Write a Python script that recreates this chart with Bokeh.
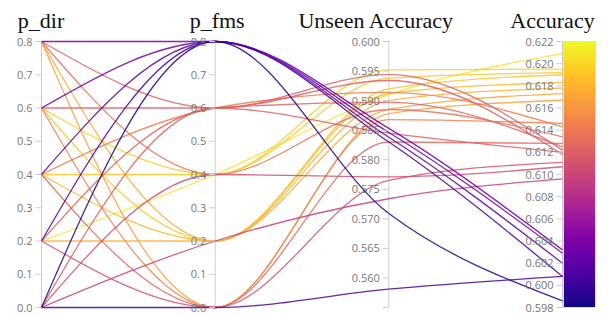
import numpy as np
from bokeh.plotting import figure
from bokeh.models import Range1d, ColumnDataSource, LinearColorMapper
from bokeh.transform import linear_cmap
from bokeh.palettes import Plasma256
from bokeh.core.properties import value
from bokeh.embed import file_html
from bokeh.resources import INLINE

# ---------------- data (one row per run) ----------------
p_dir = [0.8, 0.6, 0.4, 0.2, 0.0,
         0.8, 0.6, 0.4, 0.2, 0.0,
         0.8, 0.6, 0.4, 0.2, 0.0,
         0.8, 0.6, 0.4, 0.2, 0.0,
         0.8, 0.6, 0.4, 0.2, 0.0]
p_fms = [0.8, 0.8, 0.8, 0.8, 0.8,
         0.6, 0.6, 0.6, 0.6, 0.6,
         0.4, 0.4, 0.4, 0.4, 0.4,
         0.2, 0.2, 0.2, 0.2, 0.2,
         0.0, 0.0, 0.0, 0.0, 0.0]
unseen_acc = [0.5853, 0.5846, 0.5838, 0.5830, 0.5709,
              0.5944, 0.5934, 0.5914, 0.5897, 0.5845,
              0.5885, 0.5952, 0.5938, 0.5910, 0.5771,
              0.5885, 0.5920, 0.5912, 0.5900, 0.5734,
              0.5878, 0.5868, 0.5830, 0.5765, 0.5581]
accuracy = [0.6032, 0.6029, 0.6020, 0.6008, 0.5986,
            0.6122, 0.6118, 0.6143, 0.6125, 0.6120,
            0.6134, 0.6195, 0.6192, 0.6209, 0.6107,
            0.6173, 0.6190, 0.6183, 0.6178, 0.6096,
            0.6167, 0.6146, 0.6128, 0.6111, 0.6008]

dim_names = ["p_dir", "p_fms", "Unseen Accuracy", "Accuracy"]
dim_ranges = [(0.0, 0.8), (0.0, 0.8), (0.555, 0.600), (0.598, 0.622)]
dir_ticks = [0.0, 0.1, 0.2, 0.3, 0.4, 0.5, 0.6, 0.7, 0.8]
dir_tick_labels = ["0.0", "0.1", "0.2", "0.3", "0.4", "0.5", "0.6", "0.7", "0.8"]
fms_ticks = dir_ticks
fms_tick_labels = dir_tick_labels
unseen_ticks = [0.555, 0.560, 0.565, 0.570, 0.575, 0.580, 0.585, 0.590, 0.595, 0.600]
unseen_tick_labels = ["", "0.560", "0.565", "0.570", "0.575", "0.580", "0.585", "0.590", "0.595", "0.600"]
acc_ticks = [0.598, 0.600, 0.602, 0.604, 0.606, 0.608, 0.610, 0.612, 0.614, 0.616, 0.618, 0.620, 0.622]
acc_tick_labels = ["0.598", "0.600", "0.602", "0.604", "0.606", "0.608", "0.610", "0.612",
                   "0.614", "0.616", "0.618", "0.620", "0.622"]
all_ticks = [dir_ticks, fms_ticks, unseen_ticks, acc_ticks]
all_tick_labels = [dir_tick_labels, fms_tick_labels, unseen_tick_labels, acc_tick_labels]

# ---------------- layout constants (pixels) ----------------
W, H = 606, 314
PX_X = 173.67          # pixels between adjacent axes
AX0 = 41               # first axis, px from left of canvas
TOP = 41               # axis top, px from top of canvas
AXH = 266              # axis height in px
px_y = 1.0 / AXH
px_x = 1.0 / PX_X

x_start = -AX0 * px_x
x_end = x_start + W * px_x
y_end = 1 + TOP * px_y
y_start = y_end - H * px_y

p = figure(width=W, height=H, output_backend="svg", toolbar_location=None,
           x_range=Range1d(x_start, x_end), y_range=Range1d(y_start, y_end),
           min_border=0, outline_line_color=None)
p.axis.visible = False
p.grid.visible = False
p.background_fill_color = "white"
p.border_fill_color = "white"


def norm(v, k):
    lo, hi = dim_ranges[k]
    return (np.asarray(v, dtype=float) - lo) / (hi - lo)


cols = [p_dir, p_fms, unseen_acc, accuracy]
Y = np.vstack([norm(c, k) for k, c in enumerate(cols)]).T  # rows x 4
n_dim = 4


def monotone_tangents(ys):
    xs = np.arange(len(ys), dtype=float)
    h = np.diff(xs)
    s = np.diff(ys) / h
    t = np.zeros(len(ys))
    for i in range(1, len(ys) - 1):
        s0, s1 = s[i - 1], s[i]
        h0, h1 = h[i - 1], h[i]
        pp = (s0 * h1 + s1 * h0) / (h0 + h1)
        sg = (-1 if s0 < 0 else 1) + (-1 if s1 < 0 else 1)
        t[i] = sg * min(abs(s0), abs(s1), 0.5 * abs(pp))
    t[0] = (3 * s[0] - t[1]) / 2
    t[-1] = (3 * s[-1] - t[-2]) / 2
    return t


seg = dict(x0=[], y0=[], x1=[], y1=[], cx0=[], cy0=[], cx1=[], cy1=[], acc=[])
order = np.argsort(accuracy)[::-1]
for r in order:
    ys = Y[r]
    t = monotone_tangents(ys)
    for i in range(n_dim - 1):
        seg["x0"].append(i); seg["y0"].append(ys[i])
        seg["x1"].append(i + 1); seg["y1"].append(ys[i + 1])
        seg["cx0"].append(i + 1 / 3); seg["cy0"].append(ys[i] + t[i] / 3)
        seg["cx1"].append(i + 2 / 3); seg["cy1"].append(ys[i + 1] - t[i + 1] / 3)
        seg["acc"].append(accuracy[r])

axis_col = "#cccccc"

# axis lines
p.segment(x0=list(range(n_dim)), y0=[0] * n_dim, x1=list(range(n_dim)), y1=[1] * n_dim,
          line_color=axis_col, line_width=1)

# colour bar on the Accuracy axis
lo, hi = dim_ranges[3]
mapper = LinearColorMapper(palette=Plasma256, low=lo, high=hi)
grad = np.linspace(lo, hi, 256).reshape(256, 1)
p.image(image=[grad], x=3 + 1 * px_x, y=0, dw=32 * px_x, dh=1, color_mapper=mapper)
p.quad(left=3 + 1 * px_x, right=3 + 33 * px_x, bottom=0, top=1,
       fill_color=None, line_color="#dddddd", line_width=1)

# curves
src = ColumnDataSource(seg)
p.bezier(x0="x0", y0="y0", x1="x1", y1="y1", cx0="cx0", cy0="cy0", cx1="cx1", cy1="cy1",
         source=src, line_width=1.3, line_alpha=0.85,
         line_color=linear_cmap("acc", Plasma256, lo, hi))

# ticks and tick labels
tx0, tx1, ty, tlab, tlx = [], [], [], [], []
for k in range(n_dim):
    yn = norm(all_ticks[k], k)
    for v, lab in zip(yn, all_tick_labels[k]):
        tx0.append(k - 6 * px_x); tx1.append(k); ty.append(v)
        if lab:
            tlab.append(lab); tlx.append((k - 9 * px_x, v))
p.segment(x0=tx0, y0=ty, x1=tx1, y1=ty, line_color=axis_col, line_width=1)
p.text(x=[a for a, _ in tlx], y=[b for _, b in tlx], text=tlab,
       text_font=value("Open Sans"), text_font_size="11px", text_color="#777777",
       text_align="right", text_baseline="middle")

# titles
title_off_px = [-0.5, 2, -12.5, -10]
title_x = [k + title_off_px[k] * px_x for k in range(n_dim)]
p.text(x=title_x, y=[1 + 17 * px_y] * n_dim, text=dim_names,
       text_font=value("Liberation Serif"), text_font_size="22px", text_color="#111111",
       text_align="center", text_baseline="alphabetic", y_offset=-4)

open("out.html", "w").write(file_html(p, INLINE))
